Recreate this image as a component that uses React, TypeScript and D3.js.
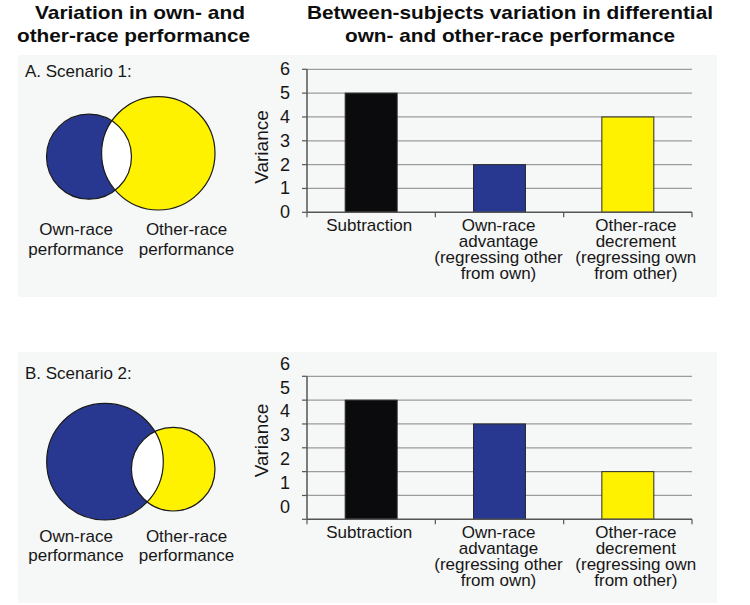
import React from "react";
import * as d3 from "d3";

// ---------- data ----------
const categoryKeys = ["Subtraction", "Own-race advantage", "Other-race decrement"];
const categoryLines = [
  ["Subtraction"],
  ["Own-race", "advantage", "(regressing other", "from own)"],
  ["Other-race", "decrement", "(regressing own", "from other)"],
];
const scenario1Values = [5, 2, 4];
const scenario2Values = [5, 4, 2];
const yTicks = [0, 1, 2, 3, 4, 5, 6];
const scenarioLabels = ["A. Scenario 1:", "B. Scenario 2:"];
const vennLabels = [
  ["Own-race", "performance"],
  ["Other-race", "performance"],
];
// relative variance of own-race / other-race performance (circle area)
const scenario1Venn = [0.531, 0.946];
const scenario2Venn = [1.0, 0.514];
const leftTitle = ["Variation in own- and", "other-race performance"];
const rightTitle = ["Between-subjects variation in differential", "own- and other-race performance"];
const yAxisTitle = "Variance";

// ---------- style ----------
const barColors = ["#0b0b0d", "#283891", "#fff200"];
const vennColors = ["#283891", "#fff200"];
const FONT = "'Liberation Sans', Arial, Helvetica, sans-serif";
const TEXT = "#161616";

export default function App() {
  const W = 750;
  const H = 605;

  const x = d3
    .scaleBand<string>()
    .domain(categoryKeys)
    .range([307, 692])
    .paddingInner(0.595)
    .paddingOuter(0.2975);
  const step = x.step();
  const rScale = d3.scaleSqrt().domain([0, 1]).range([0, 58.3]);
  const labelDx = [-2, -1, 8];

  const panels = [
    {
      key: "A",
      top: 55,
      bottom: 297,
      label: scenarioLabels[0],
      labelY: 76.5,
      values: scenario1Values,
      venn: scenario1Venn,
      centers: [
        [89, 156.7],
        [158.3, 153.3],
      ],
      vennLabelY: 235,
      yRange: [212.3, 69.3],
      tickShift: 0,
      yTitleY: 147,
    },
    {
      key: "B",
      top: 352,
      bottom: 603,
      label: scenarioLabels[1],
      labelY: 379,
      values: scenario2Values,
      venn: scenario2Venn,
      centers: [
        [105, 461.7],
        [173.2, 469.2],
      ],
      vennLabelY: 541.7,
      yRange: [519.3, 376.3],
      tickShift: -12.5,
      yTitleY: 440.5,
    },
  ];

  return (
    <div style={{ position: "absolute", left: 0, top: 0 }}>
      <svg width={W} height={H} style={{ display: "block", background: "#ffffff" }} fontFamily={FONT}>
        {/* titles */}
        <g fontWeight="bold" fontSize={19} fill="#0d0d0d" textAnchor="middle">
          <text x={140} y={19} textLength={210} lengthAdjust="spacingAndGlyphs">{leftTitle[0]}</text>
          <text x={133.5} y={42} textLength={233} lengthAdjust="spacingAndGlyphs">{leftTitle[1]}</text>
          <text x={510} y={19} textLength={406} lengthAdjust="spacingAndGlyphs">{rightTitle[0]}</text>
          <text x={510} y={42} textLength={330} lengthAdjust="spacingAndGlyphs">{rightTitle[1]}</text>
        </g>

        {panels.map((p) => {
          const y = d3.scaleLinear().domain([0, 6]).range(p.yRange);
          const [c1, c2] = p.centers;
          const r1 = rScale(p.venn[0]);
          const r2 = rScale(p.venn[1]);
          const clipId = `clip-own-${p.key}`;
          const axisY = y(0);
          return (
            <g key={p.key}>
              <rect x={18} y={p.top} width={699} height={p.bottom - p.top} fill="#f6f7f7" />
              <text x={25} y={p.labelY} fontSize={17} fill={TEXT}>{p.label}</text>

              {/* Venn diagram */}
              <defs>
                <clipPath id={clipId}>
                  <circle cx={c1[0]} cy={c1[1]} r={r1} />
                </clipPath>
              </defs>
              <circle cx={c1[0]} cy={c1[1]} r={r1} fill={vennColors[0]} />
              <circle cx={c2[0]} cy={c2[1]} r={r2} fill={vennColors[1]} />
              <circle cx={c2[0]} cy={c2[1]} r={r2} fill="#ffffff" clipPath={`url(#${clipId})`} />
              <circle cx={c1[0]} cy={c1[1]} r={r1} fill="none" stroke="#1a1a1a" strokeWidth={1.2} />
              <circle cx={c2[0]} cy={c2[1]} r={r2} fill="none" stroke="#1a1a1a" strokeWidth={1.2} />
              {vennLabels.map((lines, i) => (
                <text key={i} x={i === 0 ? 76 : 186.5} y={p.vennLabelY} fontSize={17} fill={TEXT} textAnchor="middle">
                  {lines.map((l, j) => (
                    <tspan key={j} x={i === 0 ? 76 : 186.5} dy={j === 0 ? 0 : 19.5}>{l}</tspan>
                  ))}
                </text>
              ))}

              {/* gridlines */}
              {yTicks.filter((t) => t > 0).map((t) => (
                <line key={t} x1={307} x2={692} y1={y(t)} y2={y(t)} stroke="#9c9c9c" strokeWidth={1.3} />
              ))}
              {/* y ticks */}
              {yTicks.map((t) => (
                <g key={t}>
                  <line x1={302} x2={307} y1={y(t)} y2={y(t)} stroke="#555" strokeWidth={1.2} />
                  <text x={290} y={y(t) + p.tickShift} fontSize={18} fill={TEXT} textAnchor="end" dominantBaseline="central">{t}</text>
                </g>
              ))}
              <text
                transform={`translate(261,${p.yTitleY}) rotate(-90)`}
                fontSize={19}
                fill={TEXT}
                textAnchor="middle"
                dominantBaseline="central"
              >
                {yAxisTitle}
              </text>

              {/* bars */}
              {categoryKeys.map((c, i) => (
                <rect
                  key={c}
                  x={x(c)}
                  y={y(p.values[i])}
                  width={x.bandwidth()}
                  height={axisY - y(p.values[i])}
                  fill={barColors[i]}
                  stroke="#2b2b2b"
                  strokeWidth={1}
                />
              ))}

              {/* axes */}
              <line x1={307} x2={307} y1={y(6)} y2={axisY} stroke="#555" strokeWidth={1.5} />
              <line x1={307} x2={692} y1={axisY} y2={axisY} stroke="#555" strokeWidth={1.5} />
              {[0, 1, 2, 3].map((k) => (
                <line key={k} x1={307 + k * step} x2={307 + k * step} y1={axisY} y2={axisY + 5} stroke="#555" strokeWidth={1.2} />
              ))}

              {/* category labels */}
              {categoryKeys.map((c, i) => {
                const cx = (x(c) as number) + x.bandwidth() / 2 + labelDx[i];
                return (
                  <text key={c} x={cx} y={axisY + 18.5} fontSize={17} fill={TEXT} textAnchor="middle">
                    {categoryLines[i].map((l, j) => (
                      <tspan key={j} x={cx} dy={j === 0 ? 0 : 16}>{l}</tspan>
                    ))}
                  </text>
                );
              })}
            </g>
          );
        })}
      </svg>
    </div>
  );
}
